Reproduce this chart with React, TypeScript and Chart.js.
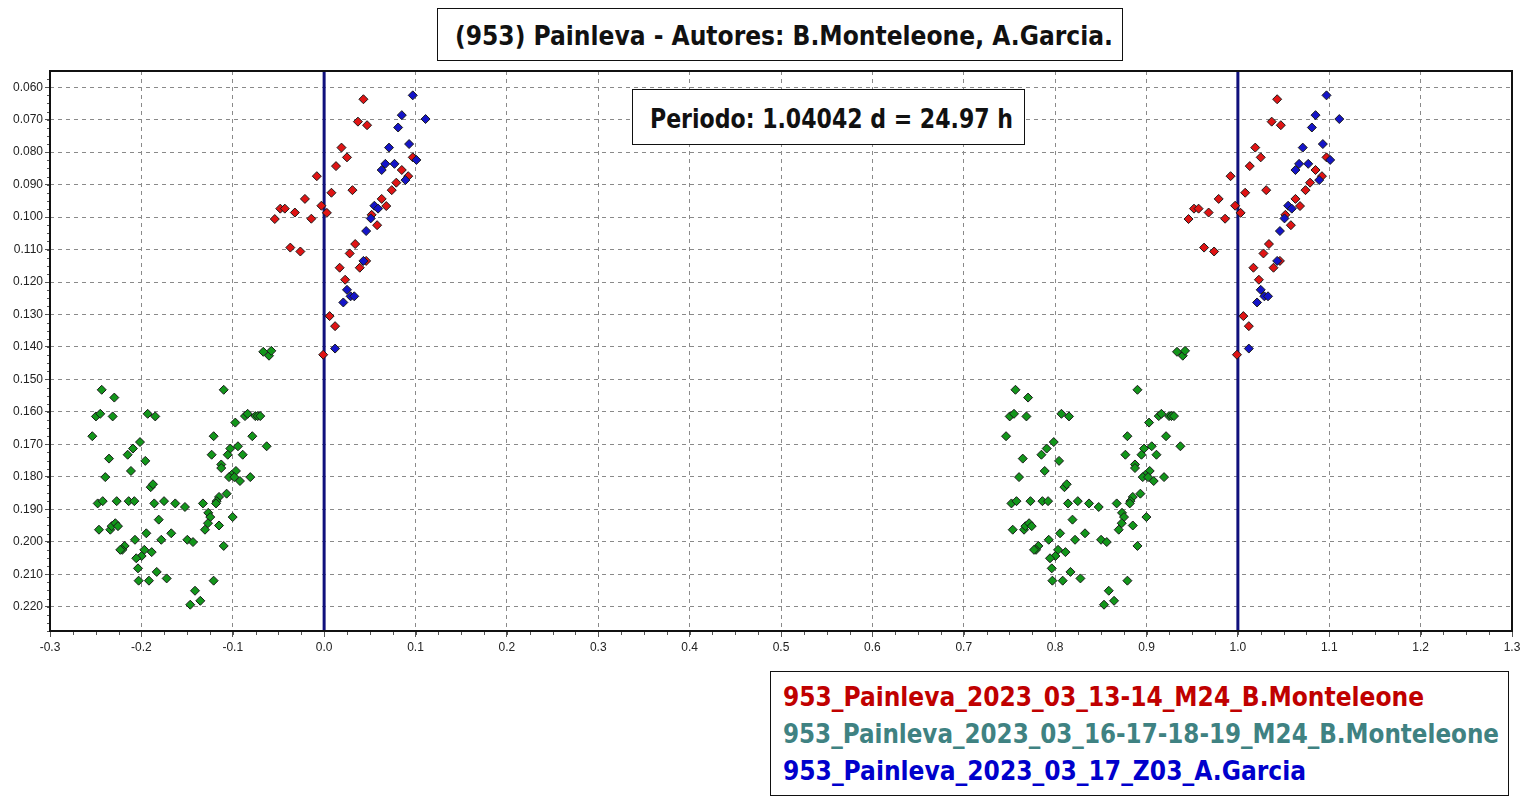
import React, { useEffect, useLayoutEffect, useRef } from "react";
import { Chart, registerables } from "chart.js";

Chart.register(...registerables);

// ---------- data ----------
const titleText = "(953) Painleva - Autores: B.Monteleone, A.Garcia.";
const periodText = "Periodo: 1.04042 d = 24.97 h";
const seriesNames = [
  "953_Painleva_2023_03_13-14_M24_B.Monteleone",
  "953_Painleva_2023_03_16-17-18-19_M24_B.Monteleone",
  "953_Painleva_2023_03_17_Z03_A.Garcia",
];

const xTickValues = [-0.3, -0.2, -0.1, 0.0, 0.1, 0.2, 0.3, 0.4, 0.5, 0.6, 0.7, 0.8, 0.9, 1.0, 1.1, 1.2, 1.3];
const yTickValues = [0.06, 0.07, 0.08, 0.09, 0.1, 0.11, 0.12, 0.13, 0.14, 0.15, 0.16, 0.17, 0.18, 0.19, 0.2, 0.21, 0.22];
const phaseMarkers = [0.0, 1.0];
const phaseCopies = [0, 1];

// red: 2023_03_13-14 M24
const redPhase = [0.043, 0.037, 0.047, 0.019, 0.025, 0.013, -0.008, 0.008, 0.031, -0.021, -0.048, -0.043, -0.003, 0.003, -0.032, -0.054, -0.014, -0.037, -0.026, 0.034, 0.028, 0.017, 0.039, 0.046, 0.023, 0.006, 0.012, -0.001, 0.052, 0.058, 0.068, 0.063, 0.074, 0.079, 0.092, 0.085, 0.097];
const redMag = [0.0637, 0.0706, 0.0717, 0.0786, 0.0816, 0.0843, 0.0874, 0.0925, 0.0917, 0.0944, 0.0974, 0.0974, 0.0965, 0.0987, 0.0986, 0.1006, 0.1005, 0.1094, 0.1106, 0.1083, 0.1112, 0.1156, 0.1156, 0.1135, 0.1193, 0.1305, 0.1336, 0.1424, 0.0993, 0.1025, 0.0966, 0.0944, 0.0917, 0.0894, 0.0874, 0.0855, 0.0816];

// green: 2023_03_16-17-18-19 M24
const greenPhase = [-0.2434, -0.2296, -0.2497, -0.245, -0.2314, -0.2537, -0.1931, -0.1848, -0.2015, -0.2092, -0.215, -0.2354, -0.1957, -0.2114, -0.2395, -0.1898, -0.1873, -0.2478, -0.2423, -0.227, -0.2139, -0.2077, -0.1859, -0.1752, -0.1629, -0.1523, -0.2464, -0.234, -0.2325, -0.2285, -0.2256, -0.181, -0.1946, -0.1673, -0.207, -0.1782, -0.1497, -0.1435, -0.2183, -0.2209, -0.2231, -0.1968, -0.1887, -0.1997, -0.2056, -0.2037, -0.1832, -0.203, -0.1917, -0.1723, -0.1413, -0.1355, -0.1465, -0.1099, -0.0972, -0.0866, -0.0837, -0.0753, -0.0727, -0.0699, -0.1209, -0.0786, -0.0629, -0.0943, -0.1027, -0.1231, -0.1055, -0.0891, -0.1126, -0.1126, -0.0965, -0.1012, -0.1041, -0.0983, -0.0921, -0.0808, -0.1067, -0.115, -0.1176, -0.1183, -0.1326, -0.1268, -0.1246, -0.1271, -0.1304, -0.115, -0.1001, -0.1099, -0.1209, -0.0666, -0.0603, -0.0578];
const greenMag = [0.1532, 0.1556, 0.1614, 0.1606, 0.1614, 0.1675, 0.1606, 0.1614, 0.1693, 0.1713, 0.1732, 0.1744, 0.1751, 0.1782, 0.1801, 0.1832, 0.1823, 0.1882, 0.1875, 0.1875, 0.1875, 0.1875, 0.1882, 0.1875, 0.1882, 0.1893, 0.1963, 0.1963, 0.1952, 0.1943, 0.1952, 0.1932, 0.1974, 0.1974, 0.1994, 0.1994, 0.1994, 0.2001, 0.2013, 0.2025, 0.2025, 0.2025, 0.2032, 0.2044, 0.2051, 0.2082, 0.2093, 0.212, 0.212, 0.2113, 0.2151, 0.2182, 0.2194, 0.1532, 0.1633, 0.1613, 0.1606, 0.1613, 0.1613, 0.1613, 0.1675, 0.1675, 0.1706, 0.1706, 0.1713, 0.1732, 0.1732, 0.1732, 0.1762, 0.1773, 0.1782, 0.1794, 0.1801, 0.1801, 0.1813, 0.1801, 0.1852, 0.1862, 0.1875, 0.1882, 0.1882, 0.1911, 0.1924, 0.1943, 0.1963, 0.195, 0.1924, 0.2013, 0.212, 0.1415, 0.1427, 0.1412];

// blue: 2023_03_17 Z03
const bluePhase = [0.097, 0.085, 0.111, 0.081, 0.093, 0.071, 0.067, 0.077, 0.063, 0.101, 0.089, 0.055, 0.059, 0.051, 0.046, 0.043, 0.025, 0.029, 0.033, 0.021, 0.012];
const blueMag = [0.0625, 0.0686, 0.0698, 0.0724, 0.0775, 0.0786, 0.0836, 0.0836, 0.0855, 0.0824, 0.0886, 0.0965, 0.0974, 0.1004, 0.1043, 0.1135, 0.1224, 0.1244, 0.1244, 0.1263, 0.1405];

const X_MIN = -0.3, X_MAX = 1.3;
const Y_MIN = 0.055, Y_MAX = 0.2275;

function folded(phase: number[], mag: number[]) {
  const out: { x: number; y: number }[] = [];
  for (const c of phaseCopies) phase.forEach((p, i) => out.push({ x: p + c, y: mag[i] }));
  return out;
}

// ---------- text helper ----------
function FitText({ text, width, style }: { text: string; width: number; style?: React.CSSProperties }) {
  const ref = useRef<HTMLSpanElement>(null);
  useLayoutEffect(() => {
    const el = ref.current;
    if (!el) return;
    el.style.transform = "none";
    const w = el.getBoundingClientRect().width;
    if (w > 0) el.style.transform = `scaleX(${width / w})`;
  }, [text, width]);
  return (
    <span
      ref={ref}
      style={{ display: "inline-block", whiteSpace: "nowrap", transformOrigin: "left center", ...style }}
    >
      {text}
    </span>
  );
}

const FONT = '"Liberation Sans Narrow", "DejaVu Sans Condensed", "Liberation Sans", sans-serif';

const framePlugin = {
  id: "frame",
  beforeDatasetsDraw(chart: any) {
    const { ctx, chartArea, scales } = chart;
    ctx.save();
    ctx.strokeStyle = "#10107c";
    ctx.lineWidth = 3;
    for (const v of phaseMarkers) {
      const px = scales.x.getPixelForValue(v);
      ctx.beginPath();
      ctx.moveTo(px, chartArea.top);
      ctx.lineTo(px, chartArea.bottom);
      ctx.stroke();
    }
    ctx.restore();
  },
  afterDraw(chart: any) {
    const { ctx, chartArea, scales } = chart;
    ctx.save();
    // minor ticks
    ctx.strokeStyle = "#555";
    ctx.lineWidth = 1;
    for (let v = X_MIN; v <= X_MAX + 1e-9; v += 0.025) {
      const px = Math.round(scales.x.getPixelForValue(v)) + 0.5;
      ctx.beginPath();
      ctx.moveTo(px, chartArea.bottom);
      ctx.lineTo(px, chartArea.bottom + 4);
      ctx.stroke();
    }
    for (let v = 0.0575; v <= Y_MAX + 1e-9; v += 0.0025) {
      const py = Math.round(scales.y.getPixelForValue(v)) + 0.5;
      ctx.beginPath();
      ctx.moveTo(chartArea.left - 3, py);
      ctx.lineTo(chartArea.left, py);
      ctx.stroke();
    }
    // frame
    ctx.strokeStyle = "#111";
    ctx.lineWidth = 2;
    ctx.strokeRect(chartArea.left, chartArea.top, chartArea.right - chartArea.left, chartArea.bottom - chartArea.top);
    ctx.restore();
  },
};

export default function App() {
  const canvasRef = useRef<HTMLCanvasElement>(null);

  useEffect(() => {
    document.body.style.margin = "0";
    document.body.style.overflow = "hidden";
    const canvas = canvasRef.current;
    if (!canvas) return;
    const pointBase = { pointStyle: "rectRot", pointRadius: 4.5, pointBorderWidth: 1, pointBorderColor: "#1a1a1a", showLine: false };
    const chart = new Chart(canvas, {
      type: "scatter",
      data: {
        datasets: [
          { label: seriesNames[2], data: folded(bluePhase, blueMag), pointBackgroundColor: "#1414c8", ...pointBase } as any,
          { label: seriesNames[0], data: folded(redPhase, redMag), pointBackgroundColor: "#e01414", ...pointBase } as any,
          { label: seriesNames[1], data: folded(greenPhase, greenMag), pointBackgroundColor: "#12961a", ...pointBase } as any,
        ],
      },
      options: {
        animation: false,
        responsive: false,
        devicePixelRatio: 1,
        layout: { padding: { left: 0, top: 71, right: 23, bottom: 140 } },
        plugins: { legend: { display: false }, tooltip: { enabled: false } },
        scales: {
          x: {
            type: "linear",
            min: X_MIN,
            max: X_MAX,
            afterBuildTicks: (s: any) => { s.ticks = xTickValues.map((v) => ({ value: v })); },
            afterFit: (s: any) => { s.height = 30; },
            ticks: {
              callback: (v: any) => Number(v).toFixed(1),
              font: { family: '"Liberation Sans", Arial, sans-serif', size: 12 },
              color: "#222",
              padding: 3,
              maxRotation: 0,
              autoSkip: false,
            },
            grid: { color: "#8a8a8a", lineWidth: 1, tickLength: 6, tickColor: "#555" },
            border: { display: false, dash: [4, 4] },
          },
          y: {
            type: "linear",
            reverse: true,
            min: Y_MIN,
            max: Y_MAX,
            afterBuildTicks: (s: any) => { s.ticks = yTickValues.map((v) => ({ value: v })); },
            afterFit: (s: any) => { s.width = 50; },
            ticks: {
              callback: (v: any) => Number(v).toFixed(3),
              font: { family: '"Liberation Sans", Arial, sans-serif', size: 12 },
              color: "#222",
              padding: 2,
              autoSkip: false,
            },
            grid: { color: "#8a8a8a", lineWidth: 1, tickLength: 5, tickColor: "#555" },
            border: { display: false, dash: [4, 4] },
          },
        },
      } as any,
      plugins: [framePlugin],
    });
    return () => chart.destroy();
  }, []);

  const box: React.CSSProperties = {
    position: "absolute",
    background: "#fff",
    border: "1.5px solid #111",
    boxSizing: "border-box",
  };
  const bold: React.CSSProperties = { fontFamily: FONT, fontWeight: 700, color: "#111", fontSize: 27, lineHeight: "30px" };

  return (
    <div style={{ position: "absolute", left: 0, top: 0, width: 1535, height: 801, background: "#fff", overflow: "hidden" }}>
      <canvas ref={canvasRef} width={1535} height={801} style={{ position: "absolute", left: 0, top: 0, width: 1535, height: 801 }} />
      <div style={{ ...box, left: 437, top: 8, width: 686, height: 53 }}>
        <div style={{ position: "absolute", left: 17, top: 12 }}>
          <FitText text={titleText} width={658} style={bold} />
        </div>
      </div>
      <div style={{ ...box, left: 632, top: 89, width: 393, height: 56 }}>
        <div style={{ position: "absolute", left: 17, top: 14 }}>
          <FitText text={periodText} width={363} style={bold} />
        </div>
      </div>
      <div style={{ ...box, left: 770, top: 671, width: 739, height: 125 }}>
        <div style={{ position: "absolute", left: 12, top: 10 }}>
          <FitText text={seriesNames[0]} width={641} style={{ ...bold, color: "#c00000" }} />
        </div>
        <div style={{ position: "absolute", left: 12, top: 47 }}>
          <FitText text={seriesNames[1]} width={716} style={{ ...bold, color: "#3f8282" }} />
        </div>
        <div style={{ position: "absolute", left: 12, top: 84 }}>
          <FitText text={seriesNames[2]} width={523} style={{ ...bold, color: "#0000cc" }} />
        </div>
      </div>
    </div>
  );
}
